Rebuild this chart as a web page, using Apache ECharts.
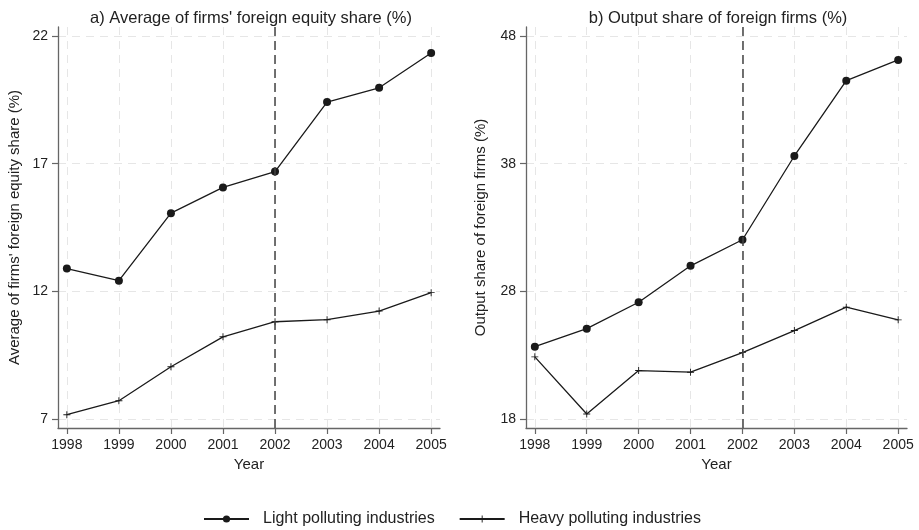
<!DOCTYPE html>
<html>
<head>
<meta charset="utf-8">
<script src="https://cdn.jsdelivr.net/npm/echarts@6/dist/echarts.min.js"></script>
<style>
  html, body { margin: 0; padding: 0; background: #fff; }
  #chart { width: 919px; height: 530px; }
</style>
</head>
<body>
<div id="chart"></div>
<script>
const years = [1998, 1999, 2000, 2001, 2002, 2003, 2004, 2005]

// panel a) average foreign equity share (%)
const equityLight = [12.89, 12.42, 15.06, 16.07, 16.69, 19.41, 19.97, 21.33]
const equityHeavy = [7.17, 7.72, 9.05, 10.22, 10.81, 10.89, 11.23, 11.95]
const equityTicks = [7, 12, 17, 22]

// panel b) output share of foreign firms (%)
const outputLight = [23.67, 25.08, 27.15, 30.0, 32.04, 38.6, 44.5, 46.12]
const outputHeavy = [22.87, 18.4, 21.8, 21.67, 23.2, 24.93, 26.76, 25.77]
const outputTicks = [18, 28, 38, 48]

const policyYear = 2002

const font = 'Liberation Sans, Arial, sans-serif'
const textColor = '#222'
const plusSymbol = 'path://M-0.13,-1 H0.13 V-0.13 H1 V0.13 H0.13 V1 H-0.13 V0.13 H-1 V-0.13 H-0.13 Z'

const chart = echarts.init(document.getElementById('chart'))

const xAxisFor = (gridIndex) => ({
  type: 'value',
  gridIndex,
  min: 1997.83,
  max: 2005.17,
  name: 'Year',
  nameLocation: 'middle',
  nameGap: 28,
  nameTextStyle: { fontFamily: font, fontSize: 15, color: textColor },
  axisLine: { show: true, lineStyle: { color: '#666', width: 1.3 } },
  axisTick: { show: true, length: 6, customValues: years, lineStyle: { color: '#666', width: 1.2 } },
  axisLabel: {
    customValues: years,
    margin: 10,
    fontFamily: font,
    fontSize: 14,
    color: textColor,
    formatter: (v) => String(v)
  },
  splitLine: { show: true, lineStyle: { color: '#e6e6e6', type: [8, 6], width: 1 } }
})

const yAxisFor = (gridIndex, min, max, ticks, name, nameGap) => ({
  type: 'value',
  gridIndex,
  min,
  max,
  name,
  nameLocation: 'middle',
  nameGap,
  nameTextStyle: { fontFamily: font, fontSize: 15, color: textColor },
  axisLine: { show: true, lineStyle: { color: '#666', width: 1.3 } },
  axisTick: { show: true, length: 6, customValues: ticks, lineStyle: { color: '#666', width: 1.2 } },
  axisLabel: { customValues: ticks, margin: 10, fontFamily: font, fontSize: 14, color: textColor },
  splitLine: { show: true, lineStyle: { color: '#e6e6e6', type: [8, 6], width: 1 } }
})

const pairs = (ys) => years.map((y, i) => [y, ys[i]])

const lineSeries = (name, data, axisIndex, light) => ({
  name,
  type: 'line',
  xAxisIndex: axisIndex,
  yAxisIndex: axisIndex,
  data: pairs(data),
  symbol: light ? 'circle' : plusSymbol,
  symbolSize: light ? 8 : 7,
  showSymbol: true,
  lineStyle: { color: '#1a1a1a', width: 1.3 },
  itemStyle: { color: '#1a1a1a' },
  z: 3
})

const policyLine = {
  silent: true,
  symbol: 'none',
  label: { show: false },
  lineStyle: { color: '#444', type: [9, 5], width: 1.5 },
  data: [{ xAxis: policyYear }]
}

const option = {
  backgroundColor: '#fff',
  animation: false,
  title: [
    {
      text: "a) Average of firms' foreign equity share (%)",
      left: 246,
      top: 5,
      textAlign: 'center',
      textStyle: { fontFamily: font, fontSize: 16.5, fontWeight: 'normal', color: textColor }
    },
    {
      text: 'b) Output share of foreign firms (%)',
      left: 713,
      top: 5,
      textAlign: 'center',
      textStyle: { fontFamily: font, fontSize: 16.5, fontWeight: 'normal', color: textColor }
    }
  ],
  legend: {
    top: 506,
    left: 198,
    itemWidth: 45,
    itemHeight: 9,
    itemGap: 24,
    textStyle: { fontFamily: font, fontSize: 16, color: textColor, padding: [0, 0, 0, 9] },
    data: ['Light polluting industries', 'Heavy polluting industries']
  },
  grid: [
    { left: 58, right: 479, top: 27, bottom: 102 },
    { left: 526, right: 12, top: 27, bottom: 102 }
  ],
  xAxis: [xAxisFor(0), xAxisFor(1)],
  yAxis: [
    yAxisFor(0, 6.65, 22.35, equityTicks, "Average of firms' foreign equity share (%)", 36),
    yAxisFor(1, 17.3, 48.7, outputTicks, 'Output share of foreign firms (%)', 38)
  ],
  series: [
    Object.assign(lineSeries('Light polluting industries', equityLight, 0, true), { markLine: policyLine }),
    lineSeries('Heavy polluting industries', equityHeavy, 0, false),
    Object.assign(lineSeries('Light polluting industries', outputLight, 1, true), { markLine: policyLine }),
    lineSeries('Heavy polluting industries', outputHeavy, 1, false)
  ]
}

chart.setOption(option)
</script>
</body>
</html>
